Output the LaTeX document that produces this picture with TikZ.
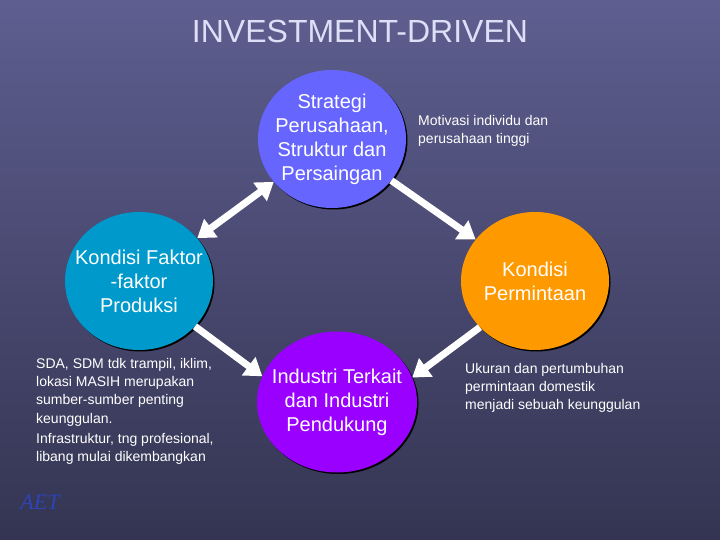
\documentclass[tikz,border=0pt]{standalone}
\usepackage{fontspec}
\setmainfont{Liberation Sans}
\newfontfamily\aetfont{Liberation Serif}
\usepackage{tikz}
\usetikzlibrary{shapes.geometric, arrows.meta, shadows}
\definecolor{bgtop}{RGB}{94,94,144}
\definecolor{bgbot}{RGB}{52,52,82}
\definecolor{titlecol}{RGB}{222,222,246}
\definecolor{strategicol}{RGB}{102,102,255}
\definecolor{faktorcol}{RGB}{0,153,204}
\definecolor{permintaancol}{RGB}{255,153,0}
\definecolor{industricol}{RGB}{153,0,255}
\definecolor{aetcol}{RGB}{45,68,185}
\tikzstyle{bubble} = [ellipse, minimum width=148pt, minimum height=138pt, inner sep=-13pt, text=white, align=center, font=\fontsize{20}{24}\selectfont, general shadow={fill=black, shadow xshift=1.5pt, shadow yshift=-1.5pt}]
\tikzstyle{note} = [anchor=north west, inner sep=0pt, text=white, align=left, font=\fontsize{14}{18.3}\selectfont]
\tikzstyle{bigarrow} = [line width=7pt, draw=white, -{Triangle[width=22pt,length=17pt]}]
\tikzstyle{botharrow} = [line width=7pt, draw=white, {Triangle[width=22pt,length=17pt]}-{Triangle[width=22pt,length=17pt]}]

\begin{document}
\begin{tikzpicture}[x=1pt, y=-1pt, node distance=142pt]
\useasboundingbox (0,0) rectangle (720,540);
\shade [top color=bgtop, bottom color=bgbot] (0,0) rectangle (720,540);
\node (title) [text=titlecol, font=\fontsize{32}{38}\selectfont, inner sep=0pt] at (360,31.5) {INVESTMENT-DRIVEN};
\node (strategi) [bubble, fill=strategicol] at (332,139) {Strategi\\Perusahaan,\\Struktur dan\\Persaingan};
\node (faktor) [bubble, fill=faktorcol, below of = strategi, xshift=-193pt] {Kondisi Faktor\\-faktor\\Produksi};
\node (permintaan) [bubble, fill=permintaancol, below of = strategi, xshift=203pt] {Kondisi\\Permintaan};
\node (industri) [bubble, fill=industricol, minimum width=160pt, minimum height=141pt, below of = strategi, yshift=-121pt, xshift=5pt] {Industri Terkait\\dan Industri\\Pendukung};
\node (motivasi) [note] at (418,115) {Motivasi individu dan\\perusahaan tinggi};
\node (sda) [note] at (36,358) {SDA, SDM tdk trampil, iklim,\\lokasi MASIH merupakan\\sumber-sumber penting\\keunggulan.\\[2pt]Infrastruktur, tng profesional,\\libang mulai dikembangkan};
\node (ukuran) [note] at (465,363) {Ukuran dan pertumbuhan\\permintaan domestik\\menjadi sebuah keunggulan};
\node (aet) [text=aetcol, font=\aetfont\itshape\fontsize{22}{26}\selectfont, inner sep=0pt] at (40,502) {AET};
\draw [botharrow] (faktor) -- (strategi);
\draw [bigarrow] (strategi) -- (permintaan);
\draw [bigarrow] (faktor.-39) -- (industri.161);
\draw [bigarrow] (permintaan.220) -- (industri.18);
\end{tikzpicture}
\end{document}
